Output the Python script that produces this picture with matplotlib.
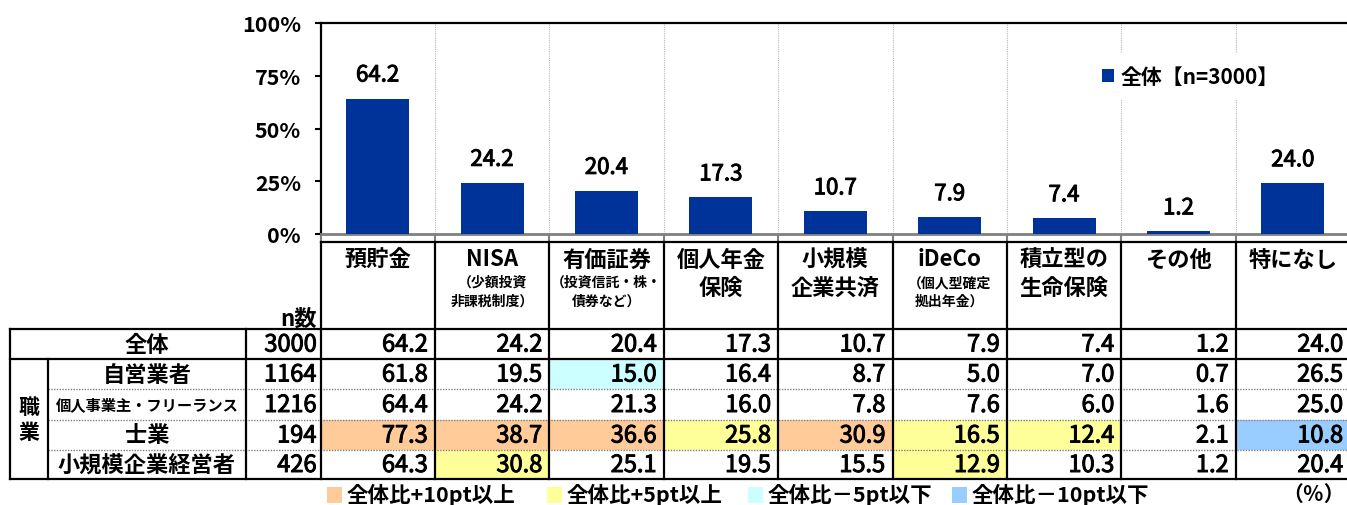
import matplotlib
matplotlib.use('Agg')
import matplotlib.pyplot as plt
import matplotlib.patheffects as pe
from matplotlib.patches import Rectangle, Patch

plt.rcParams['font.family'] = ['Noto Sans CJK JP', 'DejaVu Sans']

# ---------------- data ----------------
categories = ['預貯金', 'NISA', '有価証券', '個人年金\n保険', '小規模\n企業共済',
              'iDeCo', '積立型の\n生命保険', 'その他', '特になし']
sub_labels = ['', '（少額投資\n非課税制度）', '（投資信託・株・\n債券など）', '', '',
              '（個人型確定\n拠出年金）', '', '', '']
overall_label = '全体'
overall_n = 3000
overall_values = [64.2, 24.2, 20.4, 17.3, 10.7, 7.9, 7.4, 1.2, 24.0]
group_label = '職\n業'
row_labels = ['自営業者', '個人事業主・フリーランス', '士業', '小規模企業経営者']
row_n = [1164, 1216, 194, 426]
row_values = [
    [61.8, 19.5, 15.0, 16.4, 8.7, 5.0, 7.0, 0.7, 26.5],
    [64.4, 24.2, 21.3, 16.0, 7.8, 7.6, 6.0, 1.6, 25.0],
    [77.3, 38.7, 36.6, 25.8, 30.9, 16.5, 12.4, 2.1, 10.8],
    [64.3, 30.8, 25.1, 19.5, 15.5, 12.9, 10.3, 1.2, 20.4],
]
y_ticks = [0, 25, 50, 75, 100]
y_tick_labels = ['0%', '25%', '50%', '75%', '100%']
series_label = '全体【n=3000】'
highlight_labels = ['全体比+10pt以上', '全体比+5pt以上', '全体比－5pt以下', '全体比－10pt以下']
highlight_colors = ['#FFCC99', '#FFFF99', '#CCFFFF', '#99CCFF']
unit_label = '（％）'

BAR_COLOR = '#003399'
THICK = [pe.withStroke(linewidth=0.7, foreground='black')]

# ---------------- layout (pixels) ----------------
W, H = 1347, 506
fig = plt.figure(figsize=(W / 100, H / 100), dpi=100)
x0, cw = 320.5, 114.4
ax_top, ax_bot = 24, 235
ncol = len(categories)

ax = fig.add_axes([x0 / W, 1 - ax_bot / H, ncol * cw / W, (ax_bot - ax_top) / H])
xs = list(range(ncol))
ax.bar(xs, overall_values, width=0.55, color=BAR_COLOR, zorder=3)
ax.set_xlim(-0.5, ncol - 0.5)
ax.set_ylim(0, 100)
ax.set_yticks(y_ticks)
ax.set_yticklabels(y_tick_labels, fontsize=15.5, fontweight='bold')
ax.set_xticks([i - 0.5 for i in range(ncol + 1)])
ax.set_xticklabels([])
ax.tick_params(axis='x', length=5, color='#808080', width=1.5)
ax.tick_params(axis='y', length=4, width=1.5, pad=10)
for i in range(ncol - 1):
    ax.axvline(i + 0.5, color='#b8b8b8', lw=0.8, ls=(0, (1, 1)), zorder=1)
for s in ['left', 'top']:
    ax.spines[s].set_linewidth(1.6)
    ax.spines[s].set_color('black')
ax.spines['bottom'].set_color('#808080')
ax.spines['bottom'].set_linewidth(2)
ax.spines['right'].set_visible(False)
for i, v in enumerate(overall_values):
    ax.annotate(f'{v:.1f}', (i, v), xytext=(0, 17), textcoords='offset points',
                ha='center', va='center', fontsize=16, path_effects=THICK)

leg = ax.legend(handles=[Patch(facecolor=BAR_COLOR, label=series_label)],
                loc='upper left', bbox_to_anchor=(1079 / W, 1 - 44 / H),
                bbox_transform=fig.transFigure, frameon=True, facecolor='white',
                edgecolor='none', fancybox=False, framealpha=1,
                handlelength=0.6, handleheight=0.6, handletextpad=0.3,
                prop={'size': 15, 'weight': 'bold'}, borderpad=0.6)
leg.set_zorder(5)

# ---------------- table ----------------
tb = fig.add_axes([0, 0, 1, 1])
tb.set_xlim(0, W)
tb.set_ylim(H, 0)
tb.axis('off')

col_x = [x0 + i * cw for i in range(ncol + 1)]
hdr_top = 243
row_y = [330, 360, 390, 421, 451, 480]
x_left, x_grp, x_lab, x_n = 10, 48, 246, x0

# header texts
for j, (cat, sub) in enumerate(zip(categories, sub_labels)):
    cx = (col_x[j] + col_x[j + 1]) / 2
    lines = cat.split('\n')
    tb.text(cx, 260, lines[0], ha='center', va='center', fontsize=16, fontweight='bold')
    if len(lines) > 1:
        tb.text(cx, 288, lines[1], ha='center', va='center', fontsize=16, fontweight='bold')
    if sub:
        s1, s2 = sub.split('\n')
        tb.text(cx, 283, s1, ha='center', va='center', fontsize=10, fontweight='bold')
        tb.text(cx, 302, s2, ha='center', va='center', fontsize=10, fontweight='bold')
tb.text(x_n - 4, 319, 'n数', ha='right', va='center', fontsize=16, fontweight='bold')

# cell fills
all_rows = [overall_values] + row_values
for r, vals in enumerate(row_values):
    for j, v in enumerate(vals):
        d = round(v - overall_values[j], 1)
        c = None
        if d >= 10:
            c = highlight_colors[0]
        elif d >= 5:
            c = highlight_colors[1]
        elif d <= -10:
            c = highlight_colors[3]
        elif d <= -5:
            c = highlight_colors[2]
        if c:
            y0 = row_y[r + 1]
            tb.add_patch(Rectangle((col_x[j], y0), cw, row_y[r + 2] - y0,
                                   facecolor=c, edgecolor='none', zorder=1))

# numbers
ns = [overall_n] + row_n
for r, vals in enumerate(all_rows):
    cy = (row_y[r] + row_y[r + 1]) / 2 + 1
    tb.text(x_n - 4, cy, f'{ns[r]}', ha='right', va='center', fontsize=17,
            path_effects=THICK, zorder=3)
    for j, v in enumerate(vals):
        tb.text(col_x[j + 1] - 7, cy, f'{v:.1f}', ha='right', va='center',
                fontsize=17, path_effects=THICK, zorder=3)

# row labels
lab_cx = (x_grp + x_lab) / 2
tb.text(lab_cx, (row_y[0] + row_y[1]) / 2, overall_label, ha='center', va='center',
        fontsize=16, fontweight='bold')
for r, lab in enumerate(row_labels):
    cy = (row_y[r + 1] + row_y[r + 2]) / 2
    fs = 11 if len(lab) > 10 else 16
    tb.text(lab_cx, cy, lab, ha='center', va='center', fontsize=fs, fontweight='bold')
tb.text((x_left + x_grp) / 2, (row_y[1] + row_y[5]) / 2, group_label, ha='center',
        va='center', fontsize=15, fontweight='bold', linespacing=1.2)

# lines
lw = 1.6
tb.plot([col_x[0], W], [hdr_top, hdr_top], color='black', lw=lw, zorder=4)
for y in [row_y[0], row_y[1], row_y[5]]:
    tb.plot([x_left, W], [y, y], color='black', lw=lw, zorder=4)
for y in row_y[2:5]:
    tb.plot([x_grp, W], [y, y], color='#808080', lw=1.0, ls=(0, (1, 1)), zorder=4)
for x in col_x:
    tb.plot([x, x], [hdr_top, row_y[5]], color='black', lw=lw, zorder=4)
tb.plot([x_left, x_left], [row_y[0], row_y[5]], color='black', lw=lw, zorder=4)
tb.plot([x_grp, x_grp], [row_y[1], row_y[5]], color='black', lw=lw, zorder=4)
tb.plot([x_lab, x_lab], [row_y[0], row_y[5]], color='black', lw=lw, zorder=4)

# bottom legend
leg_x = [327, 547, 748, 952]
for lx, lab, c in zip(leg_x, highlight_labels, highlight_colors):
    tb.add_patch(Rectangle((lx, 488), 15, 16, facecolor=c, edgecolor='none'))
    tb.text(lx + 20, 494.5, lab, ha='left', va='center', fontsize=15.5, fontweight='bold')
tb.text(1345, 494.5, unit_label, ha='right', va='center', fontsize=15, fontweight='bold')

fig.savefig('out.png', dpi=100)
